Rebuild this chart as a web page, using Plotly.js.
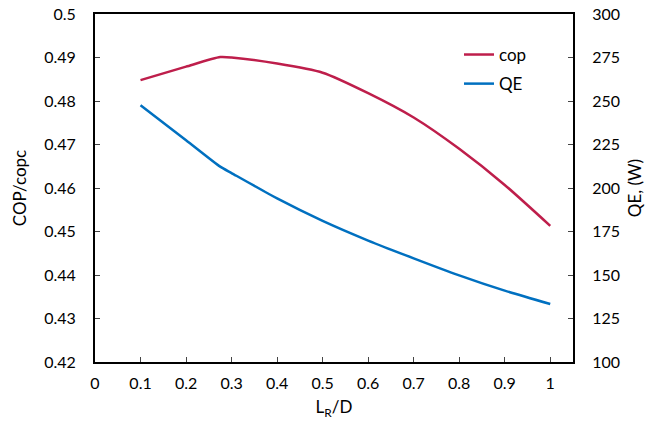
<!DOCTYPE html>
<html><head><meta charset="utf-8">
<script src="https://cdn.plot.ly/plotly-3.0.1.min.js"></script>
<style>html,body{margin:0;padding:0;background:#fff}#chart{width:652px;height:424px}</style>
</head><body><div id="chart"></div>
<script>
const lrD = [0.1, 0.2, 0.275, 0.3, 0.4, 0.5, 0.6, 0.7, 0.8, 0.9, 1.0];
const copRatio = [0.4848, 0.4879, 0.4901, 0.4900, 0.4886, 0.4865, 0.4818, 0.4762, 0.4690, 0.4607, 0.4513];
const qe = [247.6, 227.5, 212.3, 208.6, 194.0, 181.1, 169.8, 159.6, 149.8, 141.0, 133.3];
const xTicks = [0, 0.1, 0.2, 0.3, 0.4, 0.5, 0.6, 0.7, 0.8, 0.9, 1];
const xTickText = ['0', '0.1', '0.2', '0.3', '0.4', '0.5', '0.6', '0.7', '0.8', '0.9', '1'];

const FONT = 'Lato, "Open Sans", sans-serif';
const traces = [
  {x: lrD, y: copRatio, name: 'cop', type: 'scatter', mode: 'lines', yaxis: 'y', legendgroup: 'a',
   line: {color: '#BE1E4B', width: 2.5, shape: 'spline', smoothing: 0.6}},
  {x: lrD, y: qe, name: 'QE', type: 'scatter', mode: 'lines', yaxis: 'y2', legendgroup: 'b',
   line: {color: '#0070C0', width: 2.5, shape: 'spline', smoothing: 0.6}}
];
const layout = {
  width: 652, height: 424,
  margin: {l: 95, r: 79, t: 14, b: 62},
  paper_bgcolor: '#fff', plot_bgcolor: '#fff',
  font: {family: FONT, size: 16, color: '#000'},
  showlegend: true,
  legend: {x: 0.7615, y: 0.934, xanchor: 'left', yanchor: 'top', bgcolor: 'rgba(0,0,0,0)',
           font: {size: 17}, tracegroupgap: 4},
  xaxis: {range: [0, 1.05], tickvals: xTicks, ticktext: xTickText, ticks: 'inside', ticklen: 5,
          tickwidth: 1, showline: true, linewidth: 2, linecolor: '#000', mirror: true,
          showgrid: false, zeroline: false, ticklabelstandoff: 6,
          title: {text: 'L<sub>R</sub>/D', standoff: 10, font: {size: 17}}},
  yaxis: {range: [0.42, 0.5], dtick: 0.01, tick0: 0.42, ticks: 'inside', ticklen: 5, tickwidth: 1,
          showline: true, linewidth: 2, linecolor: '#000', showgrid: false, zeroline: false,
          tickformat: '.2~f', ticklabelstandoff: 14,
          title: {text: 'COP/copc', standoff: 13, font: {size: 17}}},
  yaxis2: {range: [100, 300], dtick: 25, tick0: 100, overlaying: 'y', side: 'right', ticks: 'inside',
           ticklen: 5, tickwidth: 1, showline: true, linewidth: 2, linecolor: '#000',
           showgrid: false, zeroline: false, ticklabelstandoff: 14,
           title: {text: 'QE, (W)', standoff: 10, font: {size: 17}}}
};
Plotly.newPlot('chart', traces, layout, {displayModeBar: false, staticPlot: true});
</script></body></html>
